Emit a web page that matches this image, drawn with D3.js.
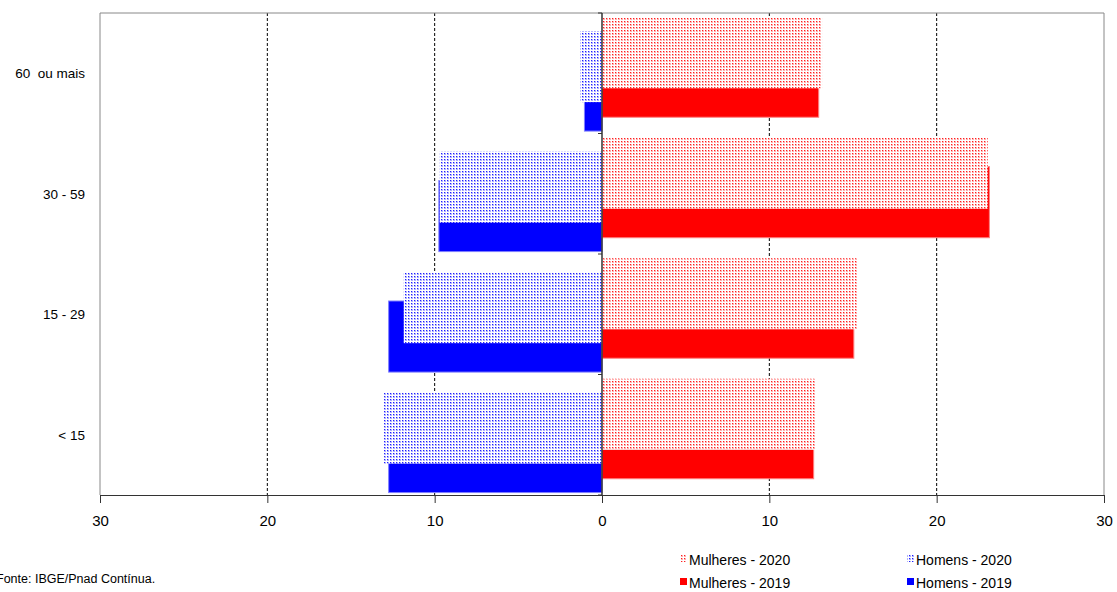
<!DOCTYPE html>
<html><head><meta charset="utf-8">
<script src="https://cdn.jsdelivr.net/npm/d3@7"></script>
<style>body{margin:0;background:#fff}svg{display:block;font-family:"Liberation Sans",Arial,sans-serif}</style>
</head><body>
<svg id="c" width="1117" height="592"></svg>
<script>
const categories = ["60  ou mais", "30 - 59", "15 - 29", "< 15"];
const mulheres2020 = [13.15, 23.05, 15.25, 12.75];
const mulheres2019 = [12.95, 23.15, 15.05, 12.65];
const homens2020 = [1.3, 9.7, 11.85, 13.05];
const homens2019 = [1.05, 9.75, 12.75, 12.75];
const xTicks = [-30, -20, -10, 0, 10, 20, 30];
const legendLabels = ["Mulheres - 2020", "Homens - 2020", "Mulheres - 2019", "Homens - 2019"];

const svg = d3.select("#c");
const L = 100, R = 1104, T = 13, B = 495;
const x = d3.scaleLinear().domain([-30, 30]).range([L, R]);
const y = d3.scaleBand().domain(categories).range([T, B]);
const bw = y.bandwidth();

const defs = svg.append("defs");
function pat(id, light, dark) {
  const p = defs.append("pattern").attr("id", id).attr("width", 3).attr("height", 3)
    .attr("patternUnits", "userSpaceOnUse");
  p.append("rect").attr("width", 3).attr("height", 3).attr("fill", "#fff");
  p.append("rect").attr("width", 2).attr("height", 2).attr("fill", light);
  p.append("rect").attr("width", 1).attr("height", 1).attr("fill", dark);
}
pat("pr", "#ffb0b0", "#ff2020");
pat("pb", "#b0b0ff", "#2020ff");

// gridlines
svg.append("g").selectAll("line").data([-20, -10, 10, 20]).join("line")
  .attr("x1", d => x(d)).attr("x2", d => x(d)).attr("y1", T).attr("y2", B)
  .attr("stroke", "#000").attr("stroke-width", 1).attr("stroke-dasharray", "3,2");

// frame
svg.append("path").attr("d", `M${L},${B}V${T}H${R}V${B}`).attr("fill", "none").attr("stroke", "#888");

// bar layout offsets (fraction of band) and height
const h = 0.59 * bw;
const bars = [
  {vals: homens2019, sign: -1, off: 0.39, fill: "#0000ff", stroke: "#8080ff"},
  {vals: mulheres2019, sign: 1, off: 0.275, fill: "#ff0000", stroke: "#ff8080"},
  {vals: homens2020, sign: -1, off: 0.15, fill: "url(#pb)", stroke: "none"},
  {vals: mulheres2020, sign: 1, off: 0.035, fill: "url(#pr)", stroke: "none"}
];
bars.forEach(s => {
  svg.append("g").selectAll("rect").data(categories).join("rect")
    .attr("x", (c, i) => Math.min(x(0), x(s.sign * s.vals[i])))
    .attr("width", (c, i) => Math.abs(x(s.sign * s.vals[i]) - x(0)))
    .attr("y", c => y(c) + s.off * bw)
    .attr("height", h)
    .attr("fill", s.fill).attr("stroke", s.stroke).attr("stroke-width", 1);
});

// zero axis
const ya = svg.append("g").attr("transform", `translate(${x(0)},0)`);
ya.append("line").attr("y1", T).attr("y2", B).attr("stroke", "#333").attr("stroke-width", 1.5);
ya.selectAll(".t").data(categories.map(c => y(c)).concat([B])).join("line")
  .attr("x1", -4).attr("x2", 0).attr("y1", d => d).attr("y2", d => d).attr("stroke", "#333");

// category labels
svg.append("g").selectAll("text").data(categories).join("text")
  .attr("x", 85).attr("y", c => y(c) + bw / 2 + 5).attr("text-anchor", "end")
  .attr("xml:space", "preserve").style("white-space", "pre")
  .attr("font-size", 13.5).attr("fill", "#000").text(d => d);

// x axis
const xa = svg.append("g").attr("transform", `translate(0,${B})`)
  .call(d3.axisBottom(x).tickValues(xTicks).tickFormat(d => Math.abs(d)).tickSize(8).tickSizeOuter(0));
xa.select(".domain").attr("stroke", "#333");
xa.selectAll(".tick line").attr("stroke", "#333");
xa.selectAll(".tick text").attr("font-size", 15).attr("font-family", "Liberation Sans, Arial, sans-serif")
  .attr("fill", "#000").attr("dy", "1.35em");

// legend
const leg = [
  {t: legendLabels[0], f: "url(#pr)", x: 680, y: 565},
  {t: legendLabels[1], f: "url(#pb)", x: 907, y: 565},
  {t: legendLabels[2], f: "#ff0000", x: 680, y: 588},
  {t: legendLabels[3], f: "#0000ff", x: 907, y: 588}
];
const lg = svg.append("g").selectAll("g").data(leg).join("g");
lg.append("rect").attr("x", d => d.x).attr("y", d => d.y - 10).attr("width", 7).attr("height", 7).attr("fill", d => d.f);
lg.append("text").attr("x", d => d.x + 9).attr("y", d => d.y).attr("font-size", 14).attr("fill", "#000").text(d => d.t);

svg.append("text").attr("x", -4).attr("y", 583).attr("font-size", 12.5).attr("fill", "#000").text("Fonte: IBGE/Pnad Contínua.");
</script>
</body></html>
